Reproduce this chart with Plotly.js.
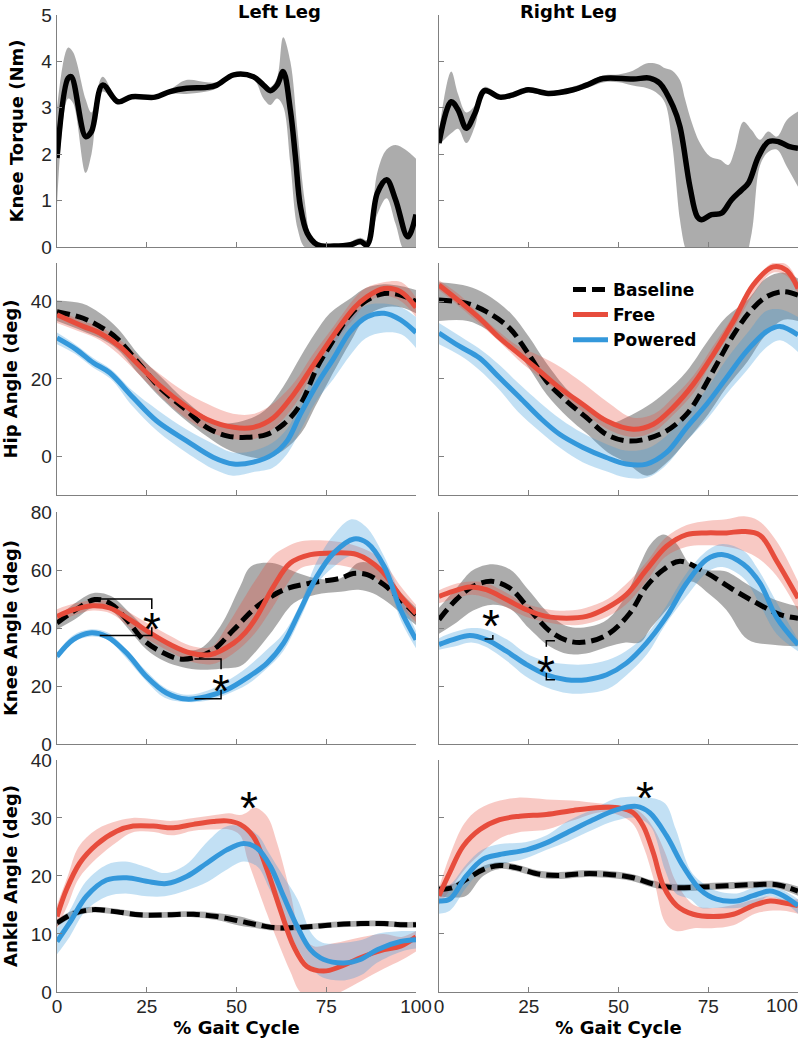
<!DOCTYPE html>
<html><head><meta charset="utf-8">
<script src="https://cdn.plot.ly/plotly-3.0.1.min.js"></script>
<style>body{margin:0;background:#fff}#chart{width:800px;height:1038px;overflow:hidden}</style>
</head><body><div id="chart"></div>
<script>
// ---------------- DATA ----------------
const columnTitles = ['Left Leg', 'Right Leg'];
const rowTitles = ['Knee Torque (Nm)', 'Hip Angle (deg)', 'Knee Angle (deg)', 'Ankle Angle (deg)'];
const seriesNames = ['Baseline', 'Free', 'Powered'];
const gaitTicks = [0, 25, 50, 75, 100];
const gaitTickText = ['0', '25', '50', '75', '100'];

// Knee torque - left
const tqL_x = [0,3.1,4,8,9.6,12.7,17,20.8,27.3,31.5,36.1,41.7,44.5,49.2,54.7,57.5,59.4,61.3,63,65,66.4,67.8,69.7,72.5,77.1,81.8,84.5,86.4,89.2,91.8,94.3,97.7,100];
const tqL_y = [1.92,3.64,3.67,2.38,2.49,3.49,3.13,3.24,3.23,3.35,3.42,3.44,3.49,3.71,3.67,3.49,3.37,3.49,3.78,2.95,1.95,0.87,0.30,0.05,0.02,0.05,0.12,0.05,1.16,1.45,1.02,0.22,0.7];
const tqL_bx = [0,3.1,4.5,8,9.6,12.7,17,21,27,31.5,36,41.7,44.5,49.2,54.7,57.5,59.4,61.3,63,65,67,69,71,74,80,84.5,86.4,89.2,91.8,94.3,97,100];
const tqL_up = [3.0,4.3,4.2,3.18,2.9,3.67,3.18,3.28,3.27,3.4,3.6,3.55,3.55,3.75,3.7,3.55,3.45,3.65,4.52,4.0,2.5,1.0,0.2,0.08,0.06,0.2,0.15,1.6,2.1,2.2,2.1,1.9];
const tqL_lo = [0.9,3.2,3.1,1.6,2.0,3.35,3.08,3.2,3.19,3.3,3.3,3.35,3.42,3.67,3.62,3.2,3.06,3.2,3.03,1.8,0.4,0,0,-0.05,-0.05,0.05,-0.05,0.7,1.05,0.5,-0.1,-0.1];

// Knee torque - right
const tqR_x = [0,3.4,5.3,7.6,10,12.7,16.9,20.6,24.8,30.4,37.4,41.1,45.7,54.1,58.7,61.5,65.2,67.1,69.9,71.9,73.1,75.9,78.7,81.5,84.3,86.2,89,91.8,94.6,97.4,100];
const tqR_y = [2.24,3.13,2.96,2.56,2.88,3.37,3.23,3.28,3.39,3.31,3.39,3.49,3.63,3.62,3.64,3.53,3.03,2.6,1.30,0.66,0.59,0.70,0.73,1.02,1.23,1.38,1.95,2.27,2.27,2.17,2.13];
const tqR_bx = [0,3.4,5.3,7.6,10,12.7,17,21,25,30,37,41,46,50,54,58,61,63,65,67.1,68.5,69.9,72.7,75.5,78.3,80.6,82.4,84.8,87.1,89.4,91.7,94.1,96.9,100];
const tqR_up = [2.5,3.78,3.3,2.9,3.05,3.45,3.28,3.33,3.45,3.36,3.45,3.55,3.7,3.72,3.8,3.96,3.94,3.85,3.8,3.6,3.2,2.81,2.24,1.95,1.88,1.77,2.09,2.70,2.52,2.31,2.49,2.38,2.74,2.92];
const tqR_lo = [2.2,2.45,2.55,2.24,2.6,3.3,3.18,3.23,3.33,3.26,3.33,3.42,3.55,3.55,3.48,3.42,3.3,3.1,2.2,0.6,0,-0.3,-0.3,-0.3,-0.3,-0.3,-0.3,-0.3,0.3,1.75,2.05,2.1,1.73,1.3];

// Hip angle - left
const hipL_base_x = [0,7.3,11.9,16.6,23.1,28.7,35.2,41.7,47.3,52.9,58.5,63.1,67.8,72.4,76.2,81.7,86.4,91.1,95.7,100];
const hipL_base_y = [37.4,35.7,33.6,30.6,23.7,17.7,12.6,7.5,5.3,4.9,5.7,8.3,13.4,22.9,28.9,36.6,40.4,42.1,41.7,40];
const hipL_free_x = [0,7.3,11.9,17.5,23.1,28.7,35.2,41.7,49.2,54.7,60.3,65.9,71.5,77.1,82.7,86.4,91.1,95.7,100];
const hipL_free_y = [36.6,33.6,31.9,28.4,23.3,18.2,13.4,9.6,7.5,7.5,10.0,16.0,23.7,31.4,38.3,41.3,43.4,42.6,38.5];
const hipL_pow_x = [0,5.4,10.1,14.7,21.2,27.7,36.1,43.6,49.2,54.7,60.3,64.1,67.8,72.4,77.1,81.7,86.4,91.1,95.7,100];
const hipL_pow_y = [30.6,27.6,24.2,21.6,15.2,9.2,4.0,-0.3,-2.0,-1.5,0.6,4.0,10.9,18.6,25.4,32.3,36.1,37.0,35.3,32];
const hipL_baseBand_x = [0,7,12,17,23,29,35,42,47,53,58,63,68,72,76,82,86,91,96,100];
const hipL_baseBand_up = [40.3,39.5,37,33,26,20.5,15,10,8.5,9.5,12,18,26,32,37,41,43.5,44.5,44,43];
const hipL_baseBand_lo = [35,32.5,30.5,27.5,21,15,10,5,2,0,-0.5,1.5,6,13,20,30,36,38.5,38.5,37];
const hipL_freeBand_x = [0,7,12,17,23,29,35,42,49,55,60,66,71,77,83,86,91,96,100];
const hipL_freeBand_up = [38,35,33.5,30.5,25.5,21,17,13.5,11,11,13.5,19,26,33.5,41,43.5,45,45,41];
const hipL_freeBand_lo = [34.5,32,30,26.5,21,15.5,10.5,6.5,4.5,4.5,7,13,21,29,36,39.5,41.5,40,36];
const hipL_powBand_x = [0,5,10,15,21,28,36,44,49,55,60,64,68,72,77,82,86,91,96,100];
const hipL_powBand_up = [32,29,25.5,22.5,17,12,7,3,1,1.5,3.5,7,14,22,30,36,39,39.5,38.5,36];
const hipL_powBand_lo = [29,26.5,23,20,13,6.5,1,-3.5,-5,-4,-3,0.5,7,14,20,26.5,30.5,32,31.5,28];

// Hip angle - right
const hipR_base_x = [0,7.6,13.2,19.7,24.4,30,35.5,41.1,46.6,52.2,57.8,63.4,69,72.7,77.3,82,86.6,91.3,95.9,100];
const hipR_base_y = [40.4,39.6,37.4,33.1,27.2,19.4,14.3,10.0,5.7,4.0,4.5,6.6,10.9,16,23.7,31.4,37.4,41.3,42.6,41.7];
const hipR_free_x = [0,5.8,11.3,16.9,22.5,28.1,33.6,40.1,46.6,54.1,59.7,65.2,70.8,76.4,82,87.5,93.1,96.8,100];
const hipR_free_y = [44.3,40.0,35.7,30.6,26.3,22.0,17.7,13.4,9.2,7.0,8.3,12.6,18.6,26.3,34.9,44.3,49.0,48.1,43.4];
const hipR_pow_x = [0,5.8,11.3,16.9,22.5,28.1,33.6,40.1,46.6,52.2,57.8,63.4,69,74.5,80.1,85.7,91.3,95,100];
const hipR_pow_y = [31.9,28.4,25.4,20.3,15.2,10.0,5.7,2.3,-0.3,-2.0,-2.0,1.0,7.5,13.4,20.3,27.2,32.3,33.6,31.4];
const hipR_baseBand_x = [0,8,13,20,25,30,36,41,47,52,58,63,69,75,80,86,91,96,100];
const hipR_baseBand_up = [45,44,42,37,31,24,17,13,8.5,10,13,16.5,22,30,36,40.5,46,47.5,46];
const hipR_baseBand_lo = [35,35,33,29,23,16,10,6,1,-1.5,-5,-2,4,10.9,17.7,24.6,31.4,35.3,35];
const hipR_freeBand_x = [0,6,11,17,22,28,34,40,47,54,60,65,71,76,82,88,93,97,100];
const hipR_freeBand_up = [45.5,41.5,37,32,28.5,26,23,19,14,10,11,15,21,28,36.5,45.5,50,49.5,45];
const hipR_freeBand_lo = [43,38.5,34.5,29.5,25,20.5,16,11.5,7,5,6.5,10.5,16.5,24.5,33,42.5,47.5,46.5,42];
const hipR_powBand_x = [0,6,11,17,22,28,34,40,47,52,58,63,69,75,80,86,91,95,100];
const hipR_powBand_up = [34.5,31,28,23.5,19,14,9.5,6,3,1.5,2,5,11,18,25,32,37.5,38,36];
const hipR_powBand_lo = [29,26,22.5,17,11.5,6.5,2,-1.5,-4,-5.5,-5.5,-2.5,4,10,16,22.5,28,30,27];

// Knee angle - left
const kneeL_base_x = [0,4.5,10.5,14.7,19.4,24,28.7,34.3,38.9,43.6,49.2,55.7,63.2,70.6,79,82.5,86.4,91.1,95.7,100];
const kneeL_base_y = [41.7,45.7,49.8,48.6,42.9,36.0,32.0,29.3,30,32.5,39.4,47.4,53.2,55.5,57.2,58.8,58.4,54.9,49.8,44.6];
const kneeL_free_x = [0,4.5,10.1,14.7,20.3,25.9,31.5,37.1,42.6,49.2,52.5,55.7,60.3,65,70.6,77.1,83.6,90.1,95.7,100];
const kneeL_free_y = [44.0,46.3,47.7,46.9,42.9,38.3,34.3,31.4,30.8,34.8,38.5,44,54.3,62.4,65.3,65.9,65.3,60.1,50.9,45];
const kneeL_pow_x = [0,4.5,9.1,13.8,19.4,24.9,30.5,36.1,41.7,47.3,52.9,58.5,63.1,67.8,72.4,77.1,82.7,86.4,91.1,95.7,100];
const kneeL_pow_y = [30.2,36.0,38.3,37.1,31.4,23.3,17.6,15.5,16.4,18.7,22.8,27.9,34.8,46.3,57.8,65.9,70.7,69.3,61.3,46.3,36];
const kneeL_baseBand_x = [0,5,10,15,20,25,30,35,40,45.5,51,54,60,66,72,79,84,88,92,96,100];
const kneeL_baseBand_up = [43.5,48.5,52,51,45.5,39.5,35,32.5,33,40.6,54.3,61.2,62.4,59.5,57.2,57.2,62.5,62,58,52,47];
const kneeL_baseBand_lo = [39.5,43,47,46,39.5,32.5,28.5,26.5,25.6,26,26.8,30,39,48.6,51.5,52.5,53.2,52,49,45,41];
const kneeL_freeBand_x = [0,5,10,15,20,26,32,37,43,47,51,55,60,64,68,77,84,90,96,100];
const kneeL_freeBand_up = [46.5,48.5,49.5,49,45.5,41,37,34,33.5,40,48,56,64.7,68,69.9,69.9,68,64,54,48];
const kneeL_freeBand_lo = [42,44.5,46,45,40.5,35.5,31.5,28.5,27.5,29.5,33,38,47,55,60.7,61.8,60,56,47,42];
const kneeL_powBand_x = [0,4.5,9,14,19,25,30,36,42,47,53,58,63,68,72,77,82,86,91,96,100];
const kneeL_powBand_up = [31.5,37.5,39.5,38.5,33,25,19.5,17,18.5,21.5,26.5,32,38,49,62,72,77.5,75,65,50,39];
const kneeL_powBand_lo = [29,35,37,36,30,21.5,16,14.5,15,17,20.5,25.5,32,44,54.5,61,65,64.5,58,42,33];

// Knee angle - right
const kneeR_base_x = [0,4.8,9.5,14.6,19.7,25.3,30.9,36.4,42,47.6,53.2,57.8,62.5,67.1,74.5,82,88.5,95,100];
const kneeR_base_y = [42.9,49.8,54.4,56.1,53.8,46.3,38.9,35.4,35.4,38.3,45.2,54.4,60.1,63.0,59,53.2,48.6,44.6,43.4];
const kneeR_free_x = [0,3.9,8.6,13.2,18.8,24.4,29.9,35.5,41.1,46.7,52.2,57.8,63.4,69,74.5,80.1,84.8,89.4,94.1,100];
const kneeR_free_y = [50.9,52.6,54.1,53.2,49.8,46.3,44.0,43.4,44.0,46.9,51.5,60.1,68.2,72.2,72.8,72.8,73.3,72,63,50.3];
const kneeR_pow_x = [0,3.9,8.6,13.2,18.8,24.4,29.9,35.5,41.1,46.7,52.2,57.8,63.4,69,74.5,79.2,84.8,89.4,94.1,100];
const kneeR_pow_y = [34.3,36.0,37.4,36.0,32.0,27.4,23.9,22.2,22.2,23.9,27.9,34.8,44.0,55.5,63.6,65.3,62,55.5,43.5,34.3];
const kneeR_baseBand_x = [0,5,9.5,15,20,25,31,36,42,47,52,56,59,62.5,66,70,75,80,86,93,100];
const kneeR_baseBand_up = [47,54,60,62,60,53,44.5,40.5,40.5,43,51,62,69,72.2,69.3,62,60,59.5,55,50,47.5];
const kneeR_baseBand_lo = [38,42,46,48,46.5,40,33.5,31,31.5,33.5,35,35,40,45,50,56,52,46.3,36,34.2,33.7];
const kneeR_freeBand_x = [0,4,9,13,19,24,30,36,41,47,52,58,63,69,75,80,85,89,94,100];
const kneeR_freeBand_up = [53,55,56,55.5,52,48.5,46.5,46,47,50,55,63,71,75.5,77,77.5,78.5,77,70,56];
const kneeR_freeBand_lo = [48.5,50,51.5,50.5,47,44,42,41,41.5,44,48,56.5,64.5,68,68.5,68,66.5,64,58,46];
const kneeR_powBand_x = [0,4,9,13,19,24,30,36,41,47,52,58,63,69,75,79,85,89,94,100];
const kneeR_powBand_up = [36.5,38.5,40,39.5,36,31.5,28.5,27.5,27.5,29,32,38,47,59,67,69,66.5,60,49,36];
const kneeR_powBand_lo = [32.5,33.5,35,33.5,28.5,23.5,19.5,17.5,17.5,19,23.5,31,41,51,59.5,61,57,49,38,32];

// Ankle angle - left
const ankL_base_x = [0,4.5,10.1,15.6,23.1,30.5,38,44.5,51,55.7,60.3,65.9,71.5,77.1,84.5,91.1,95.7,100];
const ankL_base_y = [11.9,13.5,14.2,13.9,13.3,13.3,13.4,13.0,12.2,11.6,11.1,11.1,11.3,11.6,11.8,11.8,11.6,11.6];
const ankL_free_x = [0,2.6,6.3,11,16.6,21.2,26.8,32.4,38,43.6,47.3,51,54.7,58.5,62.2,65.9,69.6,74.3,79,84.5,91.1,95.7,100];
const ankL_free_y = [13.0,17.6,22.2,25.4,27.7,28.6,28.6,28.3,28.9,29.4,29.5,28.9,26.8,21.1,14.2,7.9,4.4,3.6,4.4,5.9,7.3,7.9,9.5];
const ankL_pow_x = [0,3.5,8.2,13.8,19.4,24.9,30.5,36.1,41.7,47.3,52,55.7,59.4,63.1,66.9,70.6,74.3,79.9,84.5,89.2,95.7,100];
const ankL_pow_y = [8.7,11.9,16.5,19.3,19.7,19.1,18.7,19.9,22.2,24.5,25.6,24.8,21.7,16.5,11.3,7.3,5.6,5.0,5.6,7.3,8.7,9];
const ankL_baseBand_x = [0,4.5,10,16,23,30.5,38,44.5,51,55.7,60.3,66,71.5,77,84.5,91,96,100];
const ankL_baseBand_up = [12.5,14.1,14.7,14.4,13.8,13.8,13.9,13.6,13.0,12.2,11.6,11.6,11.8,12.1,12.3,12.3,12.1,12.1];
const ankL_baseBand_lo = [11.3,12.9,13.7,13.4,12.8,12.8,12.9,12.4,11.4,11.0,10.6,10.6,10.8,11.1,11.3,11.3,11.1,11.1];
const ankL_freeBand_x = [0,3,6,11,17,21,27,32,38,44,48,51,53,55,58.5,61.3,65,67.8,71.5,77,85,91,96,100];
const ankL_freeBand_up = [15,20,25,28,29.5,30,29.8,29.5,30,30.5,30.8,30.5,31,31.8,30.3,25.7,17.1,10.2,7.9,8.4,9.5,10,9.5,10.5];
const ankL_freeBand_lo = [11,15,19.5,23,26,27.5,27.6,27,27.8,28,28,27,23,19.5,13.5,9,3.5,0,-1,-0.5,2,4,5.5,7];
const ankL_powBand_x = [0,3.5,8,14,19,25,30,36,42,47,52,56,59,63,67,71,74,80,85,89,96,100];
const ankL_powBand_up = [11,14,19,22,22.5,21.5,20.5,22,26,28.5,28.5,27,24,20,16,10,8.5,8.5,9,10,10.5,10.5];
const ankL_powBand_lo = [6.5,9.5,14,16.5,17,16.5,16.5,17.5,19,21,22.5,21.5,18,13,7.5,4,2.5,2,3,5,7,7.5];

// Ankle angle - right
const ankR_base_x = [0,3.9,7.6,12.3,16.9,21.6,28.1,33.6,40.1,46.7,54.1,59.7,65.2,72.7,80.1,87.5,94.1,100];
const ankR_base_y = [17.7,18.0,19.4,21.1,21.8,21.4,20.3,20.1,20.4,20.3,19.7,18.6,18.0,18.1,18.3,18.5,18.5,17.4];
const ankR_free_x = [0,3,6.7,11.4,16.9,22.5,29.9,37.4,44.8,50.4,54.1,56.9,59.7,62.5,66.2,70.8,76.4,82,87.5,92.2,95.9,100];
const ankR_free_y = [16.6,20.6,25.1,28.0,29.7,30.3,30.6,31.3,31.8,31.7,30.9,28.6,24.0,18.3,14.9,13.4,13.0,13.4,14.9,15.7,15.4,14.9];
const ankR_pow_x = [0,3,7.6,12.3,16.9,24.4,29.9,36.4,42.9,49.4,55,58.7,63.4,68,72.7,77.3,82.9,87.5,92.2,95.9,100];
const ankR_pow_y = [15.7,16.0,20.0,22.9,23.7,24.5,25.7,27.7,29.7,31.4,32.0,30.9,26.9,21.7,17.7,16.0,15.7,16.6,17.4,16.6,14.9];
const ankR_baseBand_x = [0,3.9,7.6,12.3,17,21.6,28,33.6,40,46.7,54,59.7,65.2,72.7,80,87.5,94,100];
const ankR_baseBand_up = [18.3,18.6,20,21.7,22.4,22,20.9,20.7,21,20.9,20.3,19.2,18.6,18.7,18.9,19.1,19.1,18.2];
const ankR_baseBand_lo = [16.5,16.3,16.6,20.0,21.2,20.8,19.7,19.5,19.8,19.7,19.1,18.0,17.4,17.5,17.7,17.9,17.9,16.6];
const ankR_freeBand_x = [0,3,7,11,17,22,30,37,45,50,54,57,60,63,66,71,76,82,88,92,96,100];
const ankR_freeBand_up = [18,23.5,29,31.5,33,33.5,33.2,33,32.5,32.2,31.8,30.5,28,24,19,15,14.5,15,16,16.5,16,16];
const ankR_freeBand_lo = [15,17.5,21,23.5,26.5,27.5,28,29.5,31,30.5,29,25,19,12,10.5,11,11,11.5,13.5,14,14,13.5];
const ankR_powBand_x = [0,3,7.6,12,17,24,30,36,43,49,55,59,63,66,70,73,77,83,88,92,96,100];
const ankR_powBand_up = [18,18.5,22,24.5,25.5,25.8,27,29.5,31.5,33.3,33.7,33.5,32.5,28,21,19,17.5,17,18,18,17.5,16];
const ankR_powBand_lo = [13.5,14,18,21,22,23,24.5,26,28,29.5,30,28.5,21,17,16,14.5,14.5,14.5,15,16.5,15.5,13.5];

// ---------------- STYLE ----------------
const RED = '#E74C3C', BLUE = '#3498DB', BLACK = '#000000';
const RED_BAND = 'rgba(231,76,60,0.3)', BLUE_BAND = 'rgba(52,152,219,0.3)', GRAY_BAND = 'rgba(70,70,70,0.45)';
const DASH = '13px,6px';
const LW = 5;

const traces = [];
function addBand(xs, up, lo, color, xa, ya) {
  traces.push({type:'scatter', x:xs, y:lo, xaxis:xa, yaxis:ya, mode:'lines',
    line:{width:0, shape:'spline', color:color}, showlegend:false, hoverinfo:'skip'});
  traces.push({type:'scatter', x:xs, y:up, xaxis:xa, yaxis:ya, mode:'lines', fill:'tonexty', fillcolor:color,
    line:{width:0, shape:'spline', color:color}, showlegend:false, hoverinfo:'skip'});
}
function addLine(xs, ys, color, dash, width, xa, ya, name, legend) {
  traces.push({type:'scatter', x:xs, y:ys, xaxis:xa, yaxis:ya, mode:'lines', name:name,
    line:{color:color, width:width, dash:dash, shape:'spline'}, showlegend:!!legend});
}

// Row 1: torque
addBand(tqL_bx, tqL_up, tqL_lo, GRAY_BAND, 'x', 'y');
addLine(tqL_x, tqL_y, BLACK, 'solid', 5.5, 'x', 'y', 'Torque', false);
addBand(tqR_bx, tqR_up, tqR_lo, GRAY_BAND, 'x2', 'y2');
addLine(tqR_x, tqR_y, BLACK, 'solid', 5.5, 'x2', 'y2', 'Torque', false);

function anglePanel(xa, ya, d, legend) {
  addBand(d.bbx, d.bbu, d.bbl, GRAY_BAND, xa, ya);
  addBand(d.fbx, d.fbu, d.fbl, RED_BAND, xa, ya);
  addBand(d.pbx, d.pbu, d.pbl, BLUE_BAND, xa, ya);
  addLine(d.bx, d.by, BLACK, DASH, LW, xa, ya, seriesNames[0], legend);
  addLine(d.fx, d.fy, RED, 'solid', LW, xa, ya, seriesNames[1], legend);
  addLine(d.px, d.py, BLUE, 'solid', LW, xa, ya, seriesNames[2], legend);
}
anglePanel('x3','y3',{bbx:hipL_baseBand_x,bbu:hipL_baseBand_up,bbl:hipL_baseBand_lo,fbx:hipL_freeBand_x,fbu:hipL_freeBand_up,fbl:hipL_freeBand_lo,pbx:hipL_powBand_x,pbu:hipL_powBand_up,pbl:hipL_powBand_lo,bx:hipL_base_x,by:hipL_base_y,fx:hipL_free_x,fy:hipL_free_y,px:hipL_pow_x,py:hipL_pow_y}, true);
anglePanel('x4','y4',{bbx:hipR_baseBand_x,bbu:hipR_baseBand_up,bbl:hipR_baseBand_lo,fbx:hipR_freeBand_x,fbu:hipR_freeBand_up,fbl:hipR_freeBand_lo,pbx:hipR_powBand_x,pbu:hipR_powBand_up,pbl:hipR_powBand_lo,bx:hipR_base_x,by:hipR_base_y,fx:hipR_free_x,fy:hipR_free_y,px:hipR_pow_x,py:hipR_pow_y}, false);
anglePanel('x5','y5',{bbx:kneeL_baseBand_x,bbu:kneeL_baseBand_up,bbl:kneeL_baseBand_lo,fbx:kneeL_freeBand_x,fbu:kneeL_freeBand_up,fbl:kneeL_freeBand_lo,pbx:kneeL_powBand_x,pbu:kneeL_powBand_up,pbl:kneeL_powBand_lo,bx:kneeL_base_x,by:kneeL_base_y,fx:kneeL_free_x,fy:kneeL_free_y,px:kneeL_pow_x,py:kneeL_pow_y}, false);
anglePanel('x6','y6',{bbx:kneeR_baseBand_x,bbu:kneeR_baseBand_up,bbl:kneeR_baseBand_lo,fbx:kneeR_freeBand_x,fbu:kneeR_freeBand_up,fbl:kneeR_freeBand_lo,pbx:kneeR_powBand_x,pbu:kneeR_powBand_up,pbl:kneeR_powBand_lo,bx:kneeR_base_x,by:kneeR_base_y,fx:kneeR_free_x,fy:kneeR_free_y,px:kneeR_pow_x,py:kneeR_pow_y}, false);
anglePanel('x7','y7',{bbx:ankL_baseBand_x,bbu:ankL_baseBand_up,bbl:ankL_baseBand_lo,fbx:ankL_freeBand_x,fbu:ankL_freeBand_up,fbl:ankL_freeBand_lo,pbx:ankL_powBand_x,pbu:ankL_powBand_up,pbl:ankL_powBand_lo,bx:ankL_base_x,by:ankL_base_y,fx:ankL_free_x,fy:ankL_free_y,px:ankL_pow_x,py:ankL_pow_y}, false);
anglePanel('x8','y8',{bbx:ankR_baseBand_x,bbu:ankR_baseBand_up,bbl:ankR_baseBand_lo,fbx:ankR_freeBand_x,fbu:ankR_freeBand_up,fbl:ankR_freeBand_lo,pbx:ankR_powBand_x,pbu:ankR_powBand_up,pbl:ankR_powBand_lo,bx:ankR_base_x,by:ankR_base_y,fx:ankR_free_x,fy:ankR_free_y,px:ankR_pow_x,py:ankR_pow_y}, false);

// ---------------- LAYOUT ----------------
const AXC = '#808080';
const tickFont = {family:'Liberation Sans, Arial, sans-serif', size:19, color:'#262626'};
const boldFont = {family:'DejaVu Sans, Verdana, sans-serif', size:18, color:'#000', weight:'bold'};
const legendFont = {family:'DejaVu Sans, Verdana, sans-serif', size:17, color:'#000', weight:'bold'};
const xDom = [[0, 0.4845], [0.5155, 1]];
const yDom = [[0.7625, 1], [0.5087, 0.7462], [0.2538, 0.4913], [0, 0.2375]];
const yRanges = [[0, 5], [-10, 50], [0, 80], [0, 40]];
const yTicks = [[0,1,2,3,4,5], [0,20,40], [0,20,40,60,80], [0,10,20,30,40]];

const layout = {
  width: 800, height: 1038,
  margin: {l:57, r:2, t:15, b:46},
  paper_bgcolor:'#fff', plot_bgcolor:'#fff',
  hovermode:false,
  showlegend:true,
  legend:{x:0.6896, y:0.737, xanchor:'left', yanchor:'top', bgcolor:'rgba(0,0,0,0)',
    font:legendFont, tracegroupgap:0, itemwidth:35, traceorder:'normal'},
  annotations: [],
  shapes: []
};
for (let r = 0; r < 4; r++) {
  for (let c = 0; c < 2; c++) {
    const i = r*2 + c + 1;
    const xk = i === 1 ? 'xaxis' : 'xaxis' + i;
    const yk = i === 1 ? 'yaxis' : 'yaxis' + i;
    const xa = i === 1 ? 'x' : 'x' + i;
    const ya = i === 1 ? 'y' : 'y' + i;
    // the right-most "100" would fall past the page edge; it is drawn as an edge-anchored label below
    const tt = (r === 3 && c === 1) ? gaitTickText.map((t, k) => k === gaitTickText.length - 1 ? '' : t) : gaitTickText;
    layout[xk] = {domain:xDom[c], anchor:ya, range:[0,100], tickvals:gaitTicks, ticktext:tt, ticks:'inside', ticklen:5,
      tickcolor:AXC, tickwidth:1, showline:true, linecolor:AXC, linewidth:1.3, showgrid:false, zeroline:false,
      showticklabels:r === 3, tickfont:tickFont, ticklabelstandoff:-3, ticklabeloverflow:'allow', fixedrange:true};
    if (r === 3) layout[xk].title = {text:'% Gait Cycle', font:boldFont, standoff:5};
    layout[yk] = {domain:yDom[r], anchor:xa, range:yRanges[r], tickvals:yTicks[r], ticks:'inside', ticklen:5,
      tickcolor:AXC, tickwidth:1, showline:true, linecolor:AXC, linewidth:1.3, showgrid:false, zeroline:false,
      showticklabels:c === 0, tickfont:tickFont, fixedrange:true};
    if (c === 0) layout[yk].title = {text:rowTitles[r], font:boldFont, standoff:13};
  }
}
// last tick label of the bottom-right axis, kept inside the page
layout.annotations.push({text:gaitTickText[gaitTickText.length - 1], xref:'paper', yref:'paper', x:1, y:0,
  xanchor:'right', yanchor:'top', xshift:2, yshift:-1, showarrow:false, font:tickFont});
// column titles
layout.annotations.push({text:columnTitles[0], xref:'paper', yref:'paper', x:0.2422, y:1, yshift:4, yanchor:'middle', showarrow:false, font:boldFont});
layout.annotations.push({text:columnTitles[1], xref:'paper', yref:'paper', x:0.7578, y:1, yshift:4, yanchor:'middle', showarrow:false, font:boldFont});
// significance asterisks
const starFont = {family:'Liberation Sans, Arial, sans-serif', size:46, color:'#000'};
function star(xr, yr, x, y) {
  layout.annotations.push({text:'*', xref:xr, yref:yr, x:x, y:y, showarrow:false, font:starFont, yshift:-11, xanchor:'center', yanchor:'middle'});
}
star('x5','y5',26.4,43.4);
star('x5','y5',45.7,22.2);
star('x6','y6',14.6,44.6);
star('x6','y6',29.9,28.5);
star('x7','y7',53.4,33.7);
star('x8','y8',57.4,35.4);
// brackets
function bracket(xr, yr, path) {
  layout.shapes.push({type:'path', xref:xr, yref:yr, path:path, line:{color:'#000', width:1.5}});
}
bracket('x5','y5','M11.9,50 L26.4,50 L26.4,46.6');
bracket('x5','y5','M26.4,40.3 L26.4,37.4 L11.9,37.4');
bracket('x5','y5','M38.3,29.3 L45.7,29.3 L45.7,25.8');
bracket('x5','y5','M45.7,18.6 L45.7,15.6 L38.3,15.6');
bracket('x6','y6','M15.0,37.6 L15.0,36.2 L12.7,36.2');
bracket('x6','y6','M32.3,35.6 L29.9,35.6 L29.9,33.5');
bracket('x6','y6','M29.9,24.5 L29.9,22.2 L32.3,22.2');

Plotly.newPlot('chart', traces, layout, {displayModeBar:false, staticPlot:true});
</script>
</body></html>
